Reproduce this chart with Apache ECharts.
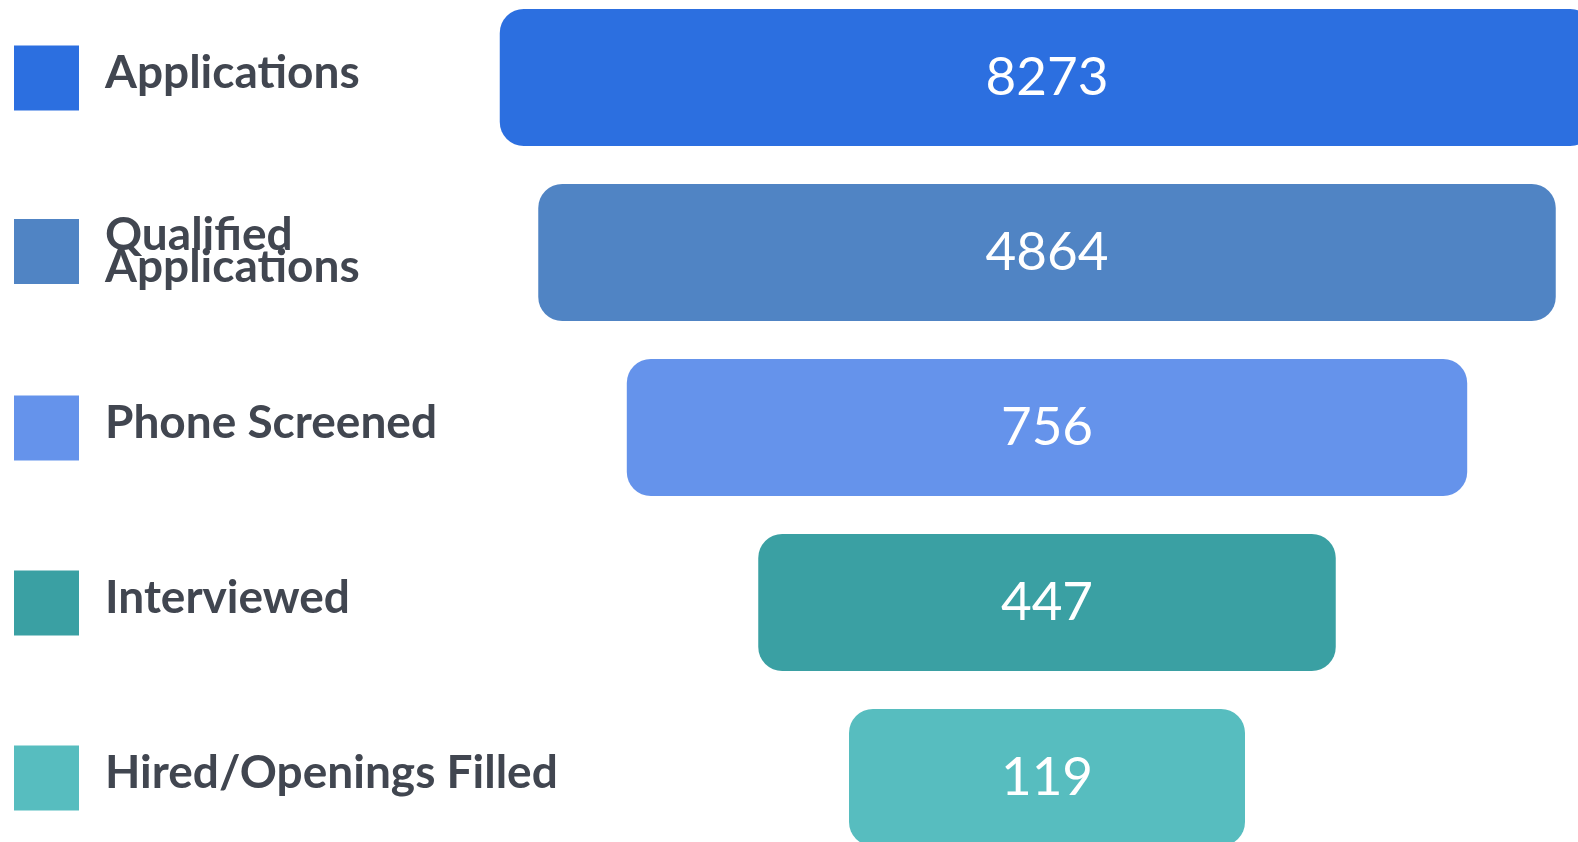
<!DOCTYPE html>
<html>
<head>
<meta charset="utf-8">
<script src="https://cdn.jsdelivr.net/npm/echarts@6/dist/echarts.min.js"></script>
<style>
html,body{margin:0;padding:0;background:#ffffff;overflow:hidden;width:1578px;height:842px;}
#chart{position:absolute;left:0;top:-10.5px;width:1600px;height:875px;}
</style>
</head>
<body>
<div id="chart"></div>
<script>
// Funnel stages and their counts (labels shown inside the bars)
const stages = ['Applications', 'Qualified Applications', 'Phone Screened', 'Interviewed', 'Hired/Openings Filled'];
const counts = [8273, 4864, 756, 447, 119];
// Relative bar length of each stage as drawn in the picture (% of the widest possible bar)
const barSpan = [99.5, 92.5, 76.4, 52.5, 36];
const colors = ['#2C6FE0', '#5084C4', '#6593EB', '#3AA0A3', '#57BDBF'];

const axisMax = 100;

const series = [{
  type: 'bar',
  stack: 'funnel',
  silent: true,
  barWidth: 137,
  itemStyle: { color: 'transparent' },
  data: barSpan.map(s => (axisMax - s) / 2)
}];
stages.forEach((name, i) => {
  series.push({
    name: name,
    type: 'bar',
    stack: 'funnel',
    barWidth: 137,
    itemStyle: { color: colors[i], borderRadius: 24 },
    label: {
      show: true,
      position: 'inside',
      formatter: () => String(counts[i]),
      color: '#ffffff',
      fontFamily: 'Lato',
      fontSize: 53,
      fontWeight: 'normal'
    },
    data: stages.map((_, j) => (j === i ? barSpan[j] : '-'))
  });
});

const twoLine = 'Qualified Applications';
const legends = stages.map((name, i) => ({
  orient: 'vertical',
  left: 14,
  // the two-line label makes its legend box taller; pull it up so the swatch stays in the row
  top: 55.5 + i * 175 - (name === twoLine ? 8 : 0),
  padding: 0,
  icon: 'rect',
  itemWidth: 65,
  itemHeight: 65,
  data: [name],
  selectedMode: false,
  formatter: n => n === twoLine ? 'Qualified\nApplications' : n + '\n{s| }',
  textStyle: {
    fontFamily: 'Lato',
    fontSize: 46,
    fontWeight: 'bold',
    color: '#414650',
    lineHeight: name === twoLine ? 32 : 36,
    padding: [0, 0, 0, 21],
    rich: { s: { fontSize: 1, lineHeight: 10 } }
  }
}));

const chart = echarts.init(document.getElementById('chart'), null, { renderer: 'canvas' });
chart.setOption({
  animation: false,
  backgroundColor: '#ffffff',
  grid: { left: 497, right: 3, top: 0, bottom: 0, containLabel: false },
  xAxis: { type: 'value', min: 0, max: axisMax, show: false },
  yAxis: { type: 'category', inverse: true, data: stages, show: false },
  legend: legends,
  series: series
});
</script>
</body>
</html>
